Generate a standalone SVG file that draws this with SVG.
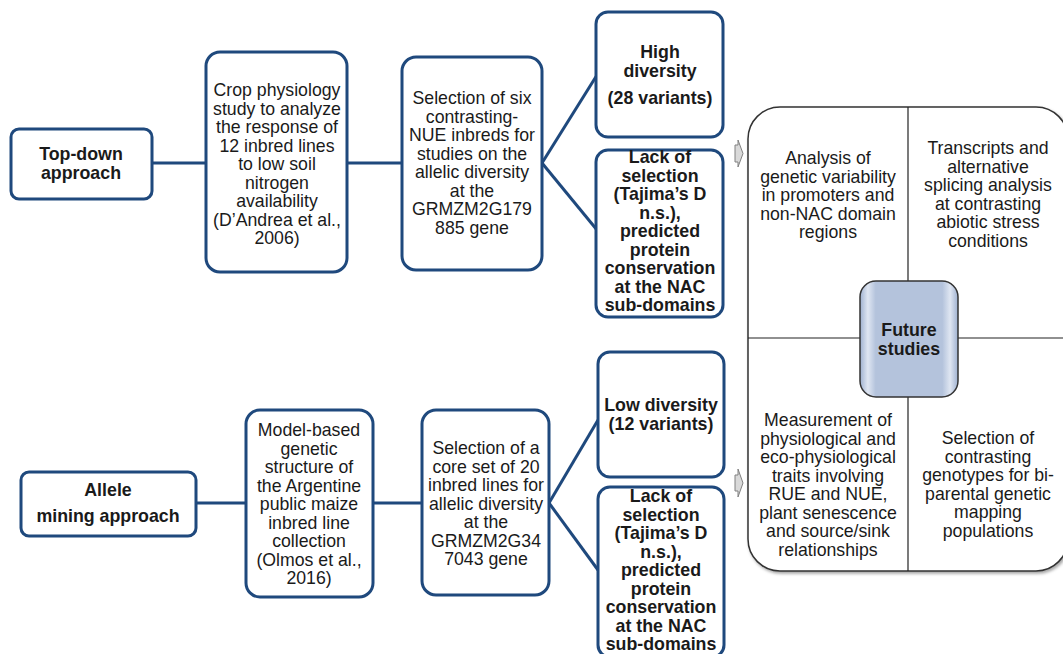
<svg xmlns="http://www.w3.org/2000/svg" width="1063" height="654" viewBox="0 0 1063 654">
<defs>
<style>
.node{fill:#fff;stroke:#1f497d;stroke-width:3}
.conn{stroke:#1f497d;stroke-width:3;fill:none}
.t{font-family:"Liberation Sans",Arial,sans-serif;font-size:17.7px;fill:#1a1a1a;text-anchor:middle}
.b{font-weight:bold;font-size:17.8px}
.arr{fill:#d9d9d9;stroke:#808080;stroke-width:1}
.div{stroke:#222;stroke-width:1.2}
</style>
<linearGradient id="fg" x1="0" y1="0" x2="1" y2="0">
<stop offset="0" stop-color="#9fb1d0"/>
<stop offset="0.08" stop-color="#dfe6f2"/>
<stop offset="0.16" stop-color="#b4c3dc"/>
<stop offset="0.84" stop-color="#b4c3dc"/>
<stop offset="0.92" stop-color="#dfe6f2"/>
<stop offset="1" stop-color="#9fb1d0"/>
</linearGradient>
<filter id="sh" x="-5%" y="-5%" width="110%" height="110%">
<feDropShadow dx="1.5" dy="2" stdDeviation="1.5" flood-color="#000" flood-opacity="0.35"/>
</filter>
</defs>
<rect width="1063" height="654" fill="#fff"/>

<g id="connectors">
<line class="conn" x1="152" y1="163" x2="206" y2="163"/>
<line class="conn" x1="347" y1="163" x2="402" y2="163"/>
<line class="conn" x1="542" y1="163" x2="597" y2="75"/>
<line class="conn" x1="542" y1="163" x2="597" y2="230"/>
<line class="conn" x1="196" y1="503" x2="246" y2="503"/>
<line class="conn" x1="373" y1="503" x2="422" y2="503"/>
<line class="conn" x1="549" y1="503" x2="598" y2="420"/>
<line class="conn" x1="549" y1="503" x2="598" y2="570"/>
<path class="arr" d="M735,145 h3 v-5 l5,13.5 l-5,13.5 v-5 h-3 z"/>
<path class="arr" d="M735,475 h3 v-6 l5,14 l-5,14 v-6 h-3 z"/>
</g>

<g id="future-panel">
<rect x="748" y="107" width="320" height="464" rx="32" fill="#fff" stroke="#333" stroke-width="1.5" filter="url(#sh)"/>
<line class="div" x1="908" y1="107" x2="908" y2="571"/>
<line class="div" x1="748" y1="338" x2="1068" y2="338"/>
<text class="t"><tspan x="828" y="164">Analysis of</tspan><tspan x="828" y="182.5">genetic variability</tspan><tspan x="828" y="201">in promoters and</tspan><tspan x="828" y="219.5">non-NAC domain</tspan><tspan x="828" y="238">regions</tspan></text>
<text class="t"><tspan x="988" y="154">Transcripts and</tspan><tspan x="988" y="172.5">alternative</tspan><tspan x="988" y="191">splicing analysis</tspan><tspan x="988" y="209.5">at contrasting</tspan><tspan x="988" y="228">abiotic stress</tspan><tspan x="988" y="246.5">conditions</tspan></text>
<text class="t"><tspan x="828" y="426">Measurement of</tspan><tspan x="828" y="444.5">physiological and</tspan><tspan x="828" y="463">eco-physiological</tspan><tspan x="828" y="481.5">traits involving</tspan><tspan x="828" y="500">RUE and NUE,</tspan><tspan x="828" y="518.5">plant senescence</tspan><tspan x="828" y="537">and source/sink</tspan><tspan x="828" y="555.5">relationships</tspan></text>
<text class="t"><tspan x="988" y="444">Selection of</tspan><tspan x="988" y="462.5">contrasting</tspan><tspan x="988" y="481">genotypes for bi-</tspan><tspan x="988" y="499.5">parental genetic</tspan><tspan x="988" y="518">mapping</tspan><tspan x="988" y="536.5">populations</tspan></text>
</g>

<g id="future-studies">
<rect x="860" y="281" width="98" height="116" rx="16" fill="url(#fg)" stroke="#333" stroke-width="1.5"/>
<text class="t b"><tspan x="909" y="336">Future</tspan><tspan x="909" y="354.5">studies</tspan></text>
</g>

<g id="top-down">
<rect class="node" x="11" y="129" width="141" height="70" rx="8"/>
<text class="t b"><tspan x="81" y="160">Top-down</tspan><tspan x="81" y="179">approach</tspan></text>
</g>

<g id="crop-physiology">
<rect class="node" x="206" y="52" width="141" height="220" rx="14"/>
<text class="t"><tspan x="277" y="96">Crop physiology</tspan><tspan x="277" y="114.5">study to analyze</tspan><tspan x="277" y="133">the response of</tspan><tspan x="277" y="151.5">12 inbred lines</tspan><tspan x="277" y="170">to low soil</tspan><tspan x="277" y="188.5">nitrogen</tspan><tspan x="277" y="207">availability</tspan><tspan x="277" y="225.5">(D’Andrea et al.,</tspan><tspan x="277" y="244">2006)</tspan></text>
</g>

<g id="selection-six">
<rect class="node" x="402" y="57" width="140" height="213" rx="14"/>
<text class="t"><tspan x="472" y="104">Selection of six</tspan><tspan x="472" y="122.5">contrasting-</tspan><tspan x="472" y="141">NUE inbreds for</tspan><tspan x="472" y="159.5">studies on the</tspan><tspan x="472" y="178">allelic diversity</tspan><tspan x="472" y="196.5">at the</tspan><tspan x="472" y="215">GRMZM2G179</tspan><tspan x="472" y="233.5">885 gene</tspan></text>
</g>

<g id="high-diversity">
<rect class="node" x="596" y="12" width="127" height="125" rx="12"/>
<text class="t b"><tspan x="660" y="58">High</tspan><tspan x="660" y="76.5">diversity</tspan><tspan x="660" y="104">(28 variants)</tspan></text>
</g>

<g id="lack-selection-1">
<rect class="node" x="596" y="150" width="127" height="167" rx="12"/>
<text class="t b"><tspan x="660" y="163">Lack of</tspan><tspan x="660" y="181.5">selection</tspan><tspan x="660" y="200">(Tajima’s D</tspan><tspan x="660" y="218.5">n.s.),</tspan><tspan x="660" y="237">predicted</tspan><tspan x="660" y="255.5">protein</tspan><tspan x="660" y="274">conservation</tspan><tspan x="660" y="292.5">at the NAC</tspan><tspan x="660" y="311">sub-domains</tspan></text>
</g>

<g id="allele-mining">
<rect class="node" x="21" y="472" width="175" height="64" rx="8"/>
<text class="t b"><tspan x="108" y="496">Allele</tspan><tspan x="108" y="522">mining approach</tspan></text>
</g>

<g id="model-based">
<rect class="node" x="246" y="410" width="127" height="187" rx="14"/>
<text class="t"><tspan x="309" y="436">Model-based</tspan><tspan x="309" y="454.5">genetic</tspan><tspan x="309" y="473">structure of</tspan><tspan x="309" y="491.5">the Argentine</tspan><tspan x="309" y="510">public maize</tspan><tspan x="309" y="528.5">inbred line</tspan><tspan x="309" y="547">collection</tspan><tspan x="309" y="565.5">(Olmos et al.,</tspan><tspan x="309" y="584">2016)</tspan></text>
</g>

<g id="selection-core">
<rect class="node" x="422" y="410" width="127" height="185" rx="14"/>
<text class="t"><tspan x="486" y="454">Selection of  a</tspan><tspan x="486" y="472.5">core set of 20</tspan><tspan x="486" y="491">inbred lines for</tspan><tspan x="486" y="509.5">allelic diversity</tspan><tspan x="486" y="528">at the</tspan><tspan x="486" y="546.5">GRMZM2G34</tspan><tspan x="486" y="565">7043  gene</tspan></text>
</g>

<g id="low-diversity">
<rect class="node" x="598" y="352" width="126" height="125" rx="12"/>
<text class="t b"><tspan x="661" y="411">Low diversity</tspan><tspan x="661" y="429.5">(12 variants)</tspan></text>
</g>

<g id="lack-selection-2">
<rect class="node" x="598" y="487" width="126" height="170" rx="12"/>
<text class="t b"><tspan x="661" y="502">Lack of</tspan><tspan x="661" y="520.5">selection</tspan><tspan x="661" y="539">(Tajima’s D</tspan><tspan x="661" y="557.5">n.s.),</tspan><tspan x="661" y="576">predicted</tspan><tspan x="661" y="594.5">protein</tspan><tspan x="661" y="613">conservation</tspan><tspan x="661" y="631.5">at the NAC</tspan><tspan x="661" y="650">sub-domains</tspan></text>
</g>
</svg>
